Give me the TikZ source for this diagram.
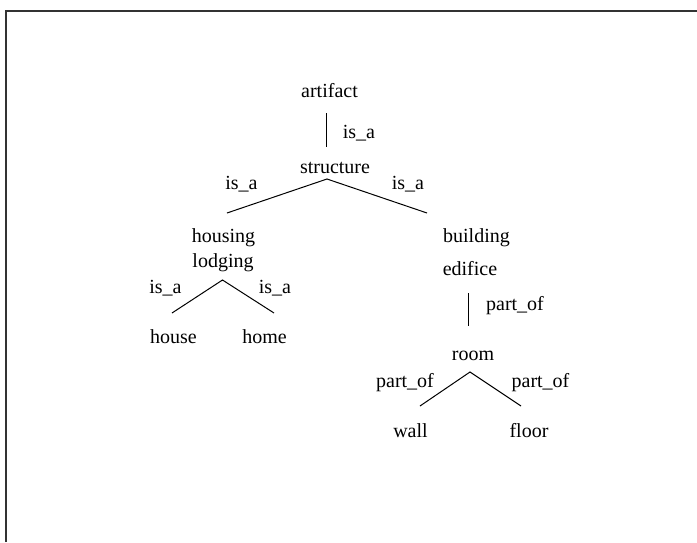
\documentclass[tikz,border=0pt]{standalone}
\usepackage{fontspec}
\setmainfont{Liberation Serif}

\begin{document}
\begin{tikzpicture}[x=0.5pt,y=-0.5pt,
	word/.style={anchor=base,inner sep=0pt,font=\fontsize{10}{12}\selectfont},
	link/.style={line width=0.5pt},
	frame/.style={line width=0.7pt,black!80}]
	\useasboundingbox (0,0) rectangle (697,542);
	
	% We will draw the frame here
	\coordinate (fbot) at (6,542);
	\coordinate (fcorner) at (6,11);
	\coordinate (fright) at (697,11);
	\draw[frame] (fbot) -- (fcorner) -- (fright);
	
	% the words
	\node[word] (artifact) at (329.5,97) {artifact};
	\node[word] (structure) at (335,173) {structure};
	\node[word] (housing) at (223.5,242) {housing};
	\node[word] (lodging) at (223,267) {lodging};
	\node[word] (house) at (173.5,343) {house};
	\node[word] (home) at (264.5,343) {home};
	\node[word] (building) at (476.5,242) {building};
	\node[word] (edifice) at (470,275) {edifice};
	\node[word] (room) at (473,360) {room};
	\node[word] (wall) at (410.5,437) {wall};
	\node[word] (floor) at (529,437) {floor};
	
	% the relation labels
	\node[word] (rel1) at (359,138) {is\_a};
	\node[word] (rel2) at (241.5,189) {is\_a};
	\node[word] (rel3) at (408,189) {is\_a};
	\node[word] (rel4) at (165.5,293) {is\_a};
	\node[word] (rel5) at (275,293) {is\_a};
	\node[word] (rel6) at (515,310) {part\_of};
	\node[word] (rel7) at (405,387) {part\_of};
	\node[word] (rel8) at (540.5,387) {part\_of};
	
	% line ends
	\coordinate (artifact-b) at (326,113);
	\coordinate (structure-t) at (326,147);
	\coordinate (structure-b) at (327,179);
	\coordinate (housing-t) at (227,213);
	\coordinate (building-t) at (427,213);
	\coordinate (lodging-b) at (222.5,280);
	\coordinate (house-t) at (172,313);
	\coordinate (home-t) at (274,313);
	\coordinate (edifice-b) at (468,293);
	\coordinate (room-t) at (468,326);
	\coordinate (room-b) at (470,372);
	\coordinate (wall-t) at (420,406);
	\coordinate (floor-t) at (521,406);
	
	\draw[link] (artifact-b) -- (structure-t);
	\draw[link] (housing-t) -- (structure-b) -- (building-t);
	\draw[link] (house-t) -- (lodging-b) -- (home-t);
	\draw[link] (edifice-b) -- (room-t);
	\draw[link] (wall-t) -- (room-b) -- (floor-t);
	
\end{tikzpicture}
\end{document}
